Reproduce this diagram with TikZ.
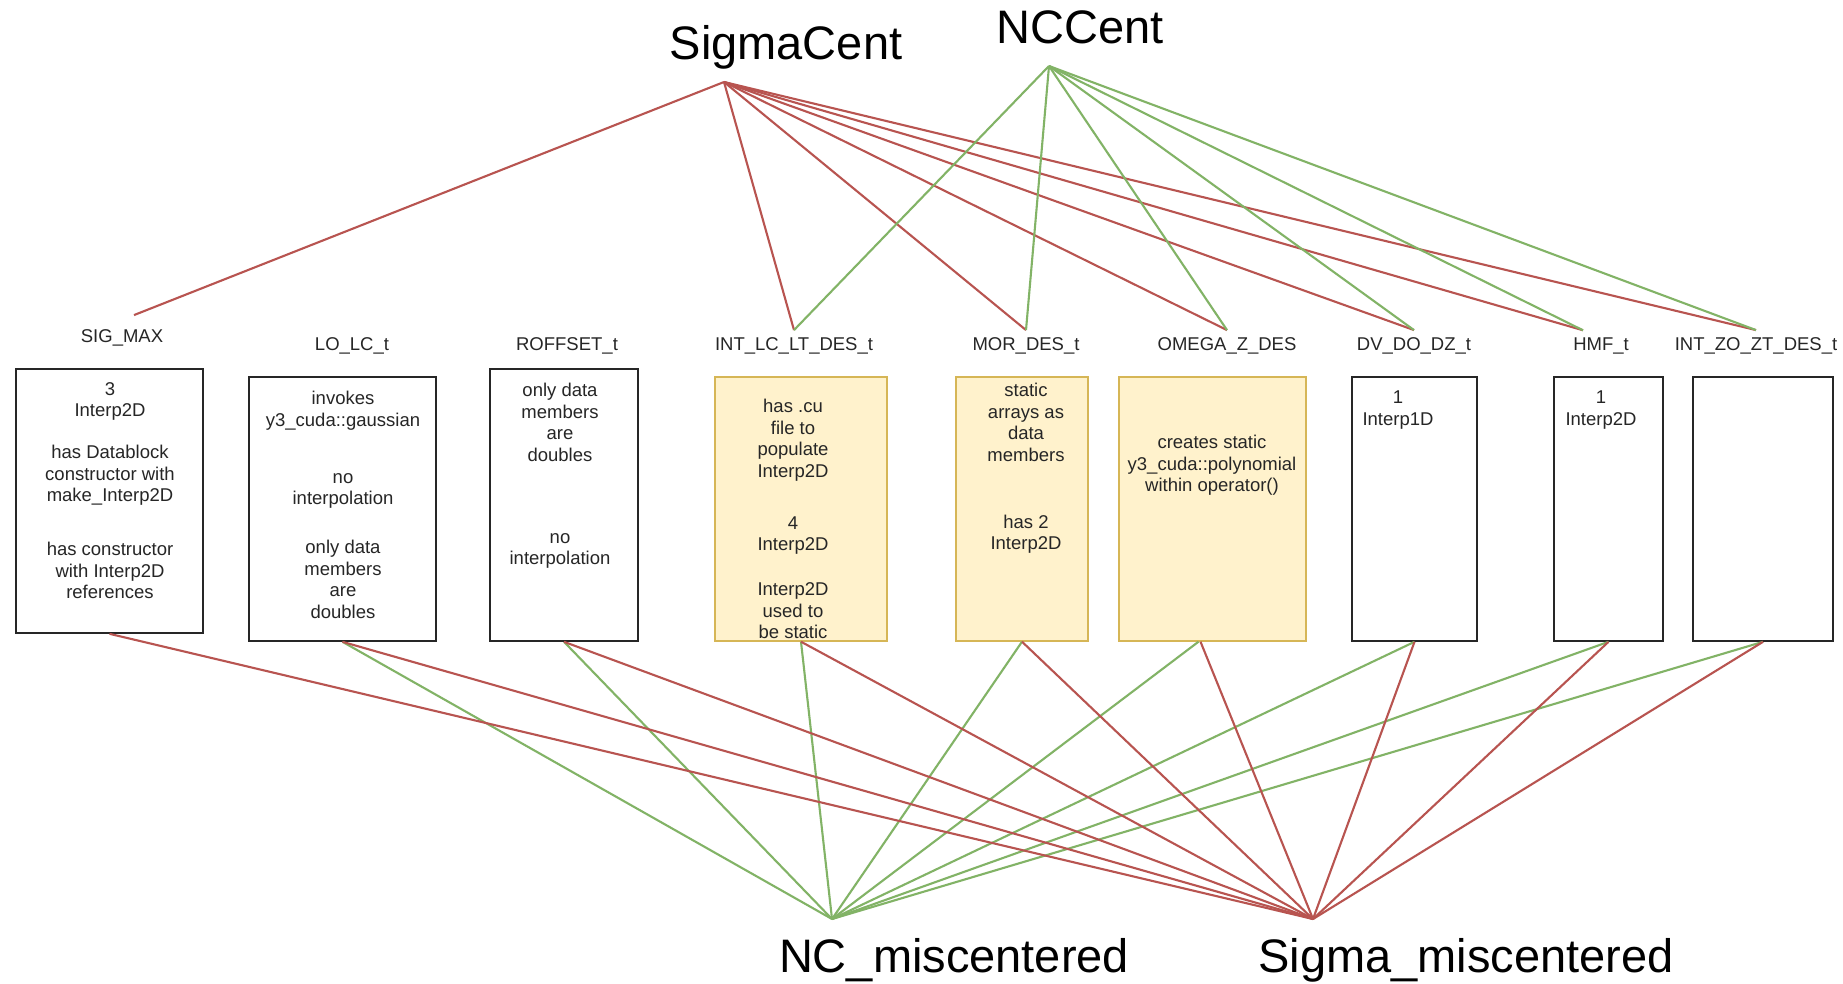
\documentclass[tikz,border=0pt]{standalone}
\usepackage{fontspec}
\setmainfont{Liberation Sans}
\usepackage{xcolor}
\usetikzlibrary{positioning}

\definecolor{sigred}{HTML}{B85450}
\definecolor{ncgreen}{HTML}{82B366}
\definecolor{notefill}{HTML}{FFF2CC}
\definecolor{notedraw}{HTML}{D6B656}

\begin{document}
\begin{tikzpicture}[x=1pt,y=-1pt,
  every node/.style={inner sep=0pt,font=\fontsize{18.5}{21.5}\selectfont,text=black!85},
  classbox/.style={draw=black!85,line width=1.6pt,minimum height=264pt},
  notebox/.style={draw=notedraw,fill=notefill,line width=1.4pt,minimum height=264pt},
  note/.style={anchor=north,align=center},
  tname/.style={anchor=base,outer ysep=7pt},
  big/.style={anchor=base,font=\fontsize{47}{51}\selectfont,text=black},
  sigline/.style={draw=sigred,line width=2.1pt},
  ncline/.style={draw=ncgreen,line width=2.1pt}]
  \path[use as bounding box,fill=white] (0,0) rectangle (1843,983);

  % centrality classes on top, miscentering classes below
  \node[big] (sigmacent) at (786,59) {SigmaCent};
  \node[big] (nccent) at (1080,43) {NCCent};
  \node[big] (ncmis) at (954,972) {NC\_miscentered};
  \node[big] (sigmis) at (1466,972) {Sigma\_miscentered};
  \coordinate (sigtop) at (724,82);
  \coordinate (nctop) at (1049,66);
  \coordinate (ncbot) at (832,919);
  \coordinate (sigbot) at (1313,919);

  % the functors
  \node[classbox,minimum width=187pt] (sigmax) at (109.5,501) {};
  \node[classbox,minimum width=187pt] (lolc) at (342.5,509) {};
  \node[classbox,minimum width=148pt,minimum height=272pt] (roffset) at (564,505) {};
  \node[notebox,minimum width=172pt] (intlc) at (801,509) {};
  \node[notebox,minimum width=132pt] (mor) at (1022,509) {};
  \node[notebox,minimum width=187pt] (omega) at (1212.5,509) {};
  \node[classbox,minimum width=125pt] (dvdo) at (1414.5,509) {};
  \node[classbox,minimum width=109pt] (hmf) at (1608.5,509) {};
  \node[classbox,minimum width=140pt] (intzo) at (1763,509) {};

  \node[tname] (sigmaxlab) at (122,342) {SIG\_MAX};
  \node[tname] (lolclab) at (352,350) {LO\_LC\_t};
  \node[tname] (roffsetlab) at (567,350) {ROFFSET\_t};
  \node[tname] (intlclab) at (794,350) {INT\_LC\_LT\_DES\_t};
  \node[tname] (morlab) at (1026,350) {MOR\_DES\_t};
  \node[tname] (omegalab) at (1227,350) {OMEGA\_Z\_DES};
  \node[tname] (dvdolab) at (1414,350) {DV\_DO\_DZ\_t};
  \node[tname] (hmflab) at (1601,350) {HMF\_t};
  \node[tname] (intzolab) at (1756,350) {INT\_ZO\_ZT\_DES\_t};

  \node[note] (sigmaxtxt) at (110,382) {3\\Interp2D\\[20.5pt]has Datablock\\constructor with\\make\_Interp2D\\[32.5pt]has constructor\\with Interp2D\\references};
  \node[note] (lolctxt) at (343,391) {invokes\\y3\_cuda::gaussian\\[35.5pt]no\\interpolation\\[27.5pt]only data\\members\\are\\doubles};
  \node[note] (roffsettxt) at (560,383) {only data\\members\\are\\doubles\\[60.5pt]no\\interpolation};
  \node[note] (intlctxt) at (793,399) {has .cu\\file to\\populate\\Interp2D\\[30.5pt]4\\Interp2D\\[23.5pt]Interp2D\\used to\\be static};
  \node[note] (mortxt) at (1026,383) {static\\arrays as\\data\\members\\[45.5pt]has 2\\Interp2D};
  \node[note] (omegatxt) at (1212,435) {creates static\\y3\_cuda::polynomial\\within operator()};
  \node[note] (dvdotxt) at (1398,391) {1\\Interp1D};
  \node[note] (hmftxt) at (1601,391) {1\\Interp2D};

  % upper connectors
  \draw[sigline] (sigtop) -- ([shift={(12,-7)}]sigmaxlab.north);
  \foreach \b in {intlc,mor,omega,dvdo,intzo}
    \draw[sigline] (sigtop) -- (\b lab.north);
  \draw[sigline] (sigtop) -- ([xshift=-18pt]hmflab.north);
  \foreach \b in {intlc,mor,omega,dvdo,intzo}
    \draw[ncline] (nctop) -- (\b lab.north);
  \draw[ncline] (nctop) -- ([xshift=-18pt]hmflab.north);

  % lower connectors
  \foreach \b in {lolc,roffset,intlc,mor,dvdo,hmf,intzo}
    \draw[ncline] (\b.south) -- (ncbot);
  \draw[ncline] ([xshift=-14pt]omega.south) -- (ncbot);
  \foreach \b in {sigmax,lolc,roffset,intlc,mor,dvdo,hmf,intzo}
    \draw[sigline] (\b.south) -- (sigbot);
  \draw[sigline] ([xshift=-12pt]omega.south) -- (sigbot);
\end{tikzpicture}
\end{document}
